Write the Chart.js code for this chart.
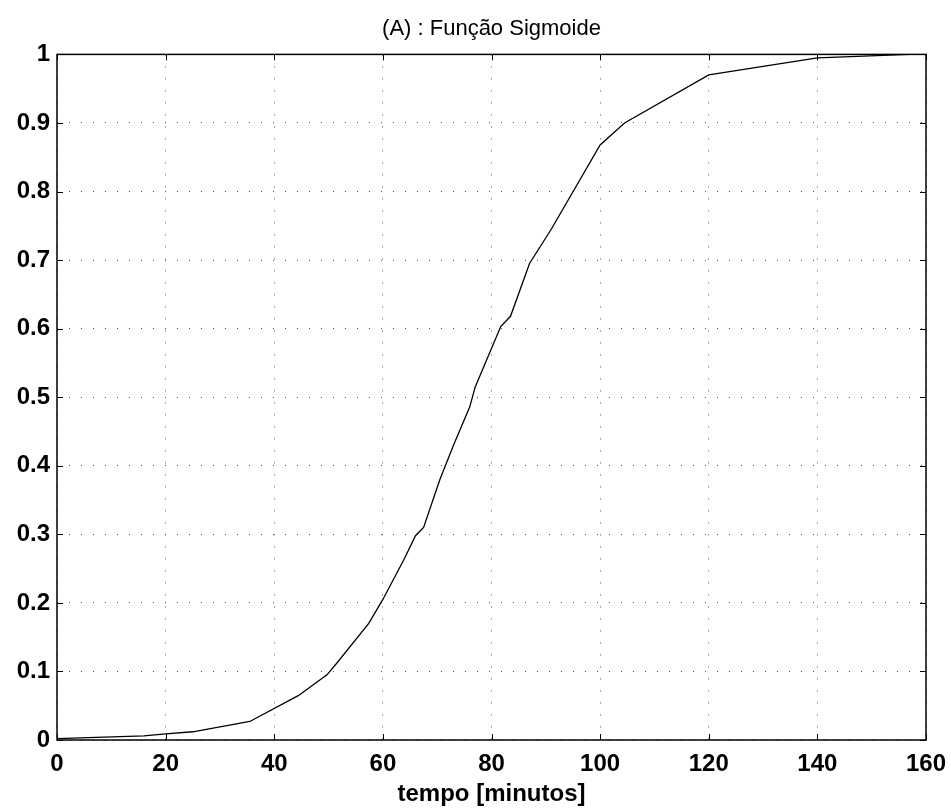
<!DOCTYPE html>
<html>
<head>
<meta charset="utf-8">
<title>Função Sigmoide</title>
<script src="https://cdn.jsdelivr.net/npm/chart.js@4/dist/chart.umd.min.js"></script>
<style>
  html, body { margin: 0; padding: 0; background: #fff; }
  #wrap { width: 951px; height: 809px; position: relative; }
</style>
</head>
<body>
<div id="wrap"><canvas id="chartSigmoide"></canvas></div>
<script>
const chartSigmoide = document.getElementById("chartSigmoide");

// valores
const tempo = [0, 16, 20, 25, 35.5, 44.5, 49.7, 51.5, 57.4, 60, 64, 66, 67.5, 70.5, 73, 76, 77, 81.7, 83.5, 87, 91, 100, 104.5, 120, 140, 157];
const sigmoide = [0.002, 0.006, 0.009, 0.012, 0.027, 0.065, 0.095, 0.112, 0.17, 0.205, 0.265, 0.298, 0.31, 0.38, 0.43, 0.486, 0.515, 0.603, 0.618, 0.695, 0.745, 0.868, 0.9, 0.97, 0.995, 1.0];

const xTicks = [0, 20, 40, 60, 80, 100, 120, 140, 160];
const yTicks = [0, 0.1, 0.2, 0.3, 0.4, 0.5, 0.6, 0.7, 0.8, 0.9, 1];

const pontos = tempo.map((t, i) => ({ x: t, y: sigmoide[i] }));

const fonte = "Arial, 'Liberation Sans', Helvetica, sans-serif";

// caixa e marcas para dentro, estilo matlab
const caixaPlugin = {
  id: "caixa",
  afterDraw(chart) {
    const ctx = chart.ctx;
    const a = chart.chartArea;
    const xs = chart.scales.x;
    const ys = chart.scales.y;
    const len = 6;
    ctx.save();
    ctx.strokeStyle = "#000";
    ctx.lineWidth = 1;
    ctx.beginPath();
    xTicks.forEach((v) => {
      const px = Math.round(xs.getPixelForValue(v)) + 0.5;
      ctx.moveTo(px, a.bottom);
      ctx.lineTo(px, a.bottom - len);
      ctx.moveTo(px, a.top);
      ctx.lineTo(px, a.top + len);
    });
    yTicks.forEach((v) => {
      const py = Math.round(ys.getPixelForValue(v)) + 0.5;
      ctx.moveTo(a.left, py);
      ctx.lineTo(a.left + len, py);
      ctx.moveTo(a.right, py);
      ctx.lineTo(a.right - len, py);
    });
    ctx.stroke();
    ctx.lineWidth = 1.5;
    ctx.strokeRect(a.left, a.top, a.right - a.left, a.bottom - a.top);
    ctx.restore();
  },
};

new Chart(chartSigmoide, {
  type: "line",
  data: {
    datasets: [
      {
        data: pontos,
        borderColor: "#000",
        borderWidth: 1.3,
        pointRadius: 0,
        tension: 0,
        fill: false,
      },
    ],
  },
  options: {
    responsive: true,
    maintainAspectRatio: false,
    animation: false,
    layout: { padding: { left: 0, right: 25, top: 0, bottom: 0 } },
    plugins: {
      legend: { display: false },
      tooltip: { enabled: false },
      title: {
        display: true,
        fullSize: false,
        text: "(A) : Função Sigmoide",
        color: "#000",
        font: { family: fonte, size: 22, weight: "normal" },
        padding: { top: 16, bottom: 12 },
      },
    },
    scales: {
      x: {
        type: "linear",
        min: 0,
        max: 160,
        afterBuildTicks: (scale) => {
          scale.ticks = xTicks.map((v) => ({ value: v }));
        },
        afterFit: (scale) => {
          scale.height = 69;
          scale.paddingLeft = 0;
          scale.paddingRight = 0;
        },
        ticks: {
          color: "#000",
          padding: 10,
          maxRotation: 0,
          font: { family: fonte, size: 24, weight: "bold" },
        },
        grid: {
          color: "#555",
          lineWidth: 1,
          drawTicks: false,
        },
        border: { display: false, dash: [1, 11] },
        title: {
          display: true,
          text: "tempo [minutos]",
          color: "#000",
          font: { family: fonte, size: 24, weight: "bold" },
          padding: { top: 0, bottom: 0 },
        },
      },
      y: {
        type: "linear",
        min: 0,
        max: 1,
        afterBuildTicks: (scale) => {
          scale.ticks = yTicks.map((v) => ({ value: v }));
        },
        afterFit: (scale) => {
          scale.width = 57;
        },
        ticks: {
          color: "#000",
          padding: 7,
          font: { family: fonte, size: 24, weight: "bold" },
          callback: (v) => String(Math.round(v * 10) / 10),
        },
        grid: {
          color: "#555",
          lineWidth: 1,
          drawTicks: false,
        },
        border: { display: false, dash: [1, 11] },
      },
    },
  },
  plugins: [caixaPlugin],
});
</script>
</body>
</html>
